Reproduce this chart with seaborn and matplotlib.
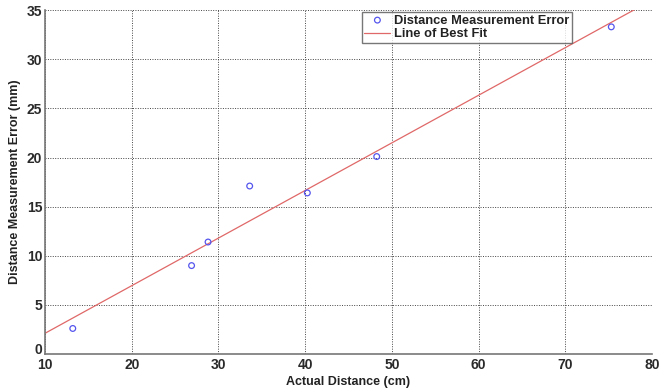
import numpy as np
import pandas as pd
import matplotlib
matplotlib.use('Agg')
import matplotlib.pyplot as plt
import matplotlib.transforms as mtransforms
import seaborn as sns

actual_distance = [13.2, 26.9, 28.8, 33.6, 40.25, 48.25, 75.3]
measurement_error = [2.6, 9.0, 11.4, 17.1, 16.4, 20.1, 33.3]
x_ticks = [10, 20, 30, 40, 50, 60, 70, 80]
y_ticks = [0, 5, 10, 15, 20, 25, 30, 35]

sns.set_style('white')
plt.rcParams['font.family'] = ['Liberation Sans', 'DejaVu Sans']
plt.rcParams['font.weight'] = 'bold'

df = pd.DataFrame({'x': actual_distance, 'y': measurement_error})

# least squares line of best fit
slope, intercept = np.polyfit(df['x'], df['y'], 1)
fit = pd.DataFrame({'x': [10, 80]})
fit['y'] = slope * fit['x'] + intercept

fig = plt.figure(figsize=(6.64, 3.91), dpi=100)
ax = fig.add_axes([0.0678, 0.0946, 0.9142, 0.8794])

sns.scatterplot(data=df, x='x', y='y', ax=ax, marker='o', s=17,
                facecolor='none', edgecolor='#5555ee', linewidth=0.9,
                label='Distance Measurement Error', zorder=3)
sns.lineplot(data=fit, x='x', y='y', ax=ax, color='#e06868', linewidth=0.9,
             label='Line of Best Fit', zorder=2)

ax.set_xlim(10, 80)
ax.set_ylim(0, 35)
ax.set_xticks(x_ticks)
ax.set_yticks(y_ticks)
ax.tick_params(axis='both', labelsize=10, length=0)
ax.tick_params(axis='x', pad=3)
ax.tick_params(axis='y', pad=2)
for lab in ax.get_xticklabels() + ax.get_yticklabels():
    lab.set_fontweight('bold')
    lab.set_color('#2a2a2a')

# the "0" on the y axis sits a little above the corner, as in the original
zero_lab = ax.get_yticklabels()[0]
zero_lab.set_transform(zero_lab.get_transform() +
                       mtransforms.ScaledTranslation(0, 4 / 72, fig.dpi_scale_trans))

ax.grid(True, color='#444444', linestyle=(0, (1, 1.5)), linewidth=0.7)
for side in ['top', 'right']:
    ax.spines[side].set_visible(False)
for side in ['left', 'bottom']:
    ax.spines[side].set_color('#777777')
    ax.spines[side].set_linewidth(1.2)

ax.set_xlabel('Actual Distance (cm)', fontsize=9, fontweight='bold', color='#222222', labelpad=3)
ax.set_ylabel('Distance Measurement Error (mm)', fontsize=9, fontweight='bold', color='#222222', labelpad=4)

leg = ax.legend(loc='upper left', bbox_to_anchor=(0.522, 0.995),
                frameon=True, fancybox=False, borderpad=0.2, labelspacing=0.15,
                handlelength=2.0, handletextpad=0.3, borderaxespad=0,
                prop={'weight': 'bold', 'size': 9.3})
leg.get_frame().set_edgecolor('#555555')
leg.get_frame().set_linewidth(1.0)
for t in leg.get_texts():
    t.set_color('#222222')

fig.savefig('out.png', dpi=100)
